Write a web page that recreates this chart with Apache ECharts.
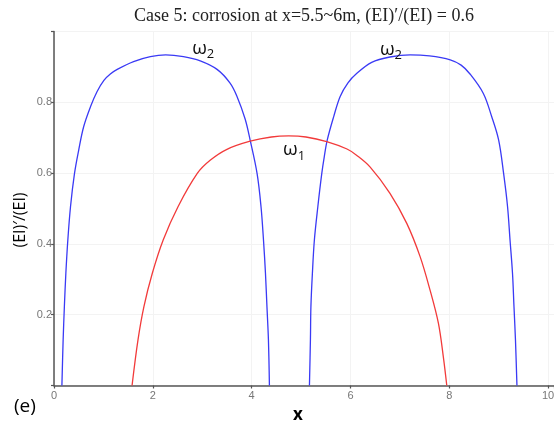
<!DOCTYPE html>
<html><head><meta charset="utf-8">
<script src="https://cdn.jsdelivr.net/npm/echarts@6/dist/echarts.min.js"></script>
<style>html,body{margin:0;padding:0;background:#fff}#c{width:554px;height:423px}</style>
</head><body><div id="c"></div>
<script>
// ω2 (first span)
const blue1X = [0.16, 0.185, 0.21, 0.24, 0.28, 0.334, 0.415, 0.50, 0.60, 0.74, 0.87, 1.01, 1.14, 1.28, 1.61, 1.95, 2.26, 2.62, 2.96, 3.30, 3.56, 3.70, 3.87, 3.97, 4.11, 4.19, 4.24, 4.28, 4.31, 4.34, 4.36];
const blue1Y = [0, 0.129, 0.223, 0.317, 0.411, 0.505, 0.599, 0.665, 0.731, 0.788, 0.830, 0.862, 0.880, 0.893, 0.915, 0.929, 0.934, 0.929, 0.917, 0.893, 0.855, 0.818, 0.752, 0.693, 0.599, 0.505, 0.411, 0.317, 0.223, 0.129, 0];
// ω2 (second span)
const blue2X = [5.17, 5.19, 5.20, 5.23, 5.27, 5.34, 5.42, 5.47, 5.53, 5.66, 5.79, 5.95, 6.13, 6.43, 6.80, 7.21, 7.60, 8.02, 8.24, 8.42, 8.69, 8.86, 9.00, 9.10, 9.18, 9.23, 9.28, 9.31, 9.34, 9.37];
const blue2Y = [0, 0.129, 0.223, 0.317, 0.411, 0.505, 0.599, 0.646, 0.693, 0.759, 0.816, 0.855, 0.882, 0.913, 0.928, 0.934, 0.931, 0.920, 0.905, 0.880, 0.825, 0.759, 0.693, 0.599, 0.505, 0.411, 0.317, 0.223, 0.129, 0];
// ω1
const redX = [1.58, 1.70, 1.82, 1.99, 2.21, 2.51, 2.90, 3.16, 3.50, 3.97, 4.40, 4.75, 5.10, 5.52, 5.93, 6.13, 6.40, 6.80, 7.14, 7.41, 7.61, 7.78, 7.88, 7.95];
const redY = [0, 0.129, 0.223, 0.317, 0.411, 0.505, 0.599, 0.636, 0.667, 0.690, 0.702, 0.705, 0.702, 0.689, 0.668, 0.650, 0.617, 0.543, 0.458, 0.364, 0.270, 0.176, 0.081, 0];
const xTicks = [0, 2, 4, 6, 8, 10];
const yTicks = [0.2, 0.4, 0.6, 0.8];
const titleText = "Case 5: corrosion at x=5.5~6m, (EI)\u2032/(EI) = 0.6";
const yName = "(EI)\u2032/(EI)";
const labels = [
  {name: "ω", sub: "2", x: 3.02, y: 0.952},
  {name: "ω", sub: "2", x: 6.82, y: 0.950},
  {name: "ω", sub: "1", x: 4.86, y: 0.665}
];

const pair = (xs, ys) => xs.map((x, i) => [x, ys[i]]);
const rich = {
  w: {fontSize: 19, fontFamily: 'Open Sans', color: '#111', verticalAlign: 'bottom'},
  s: {fontSize: 13, fontFamily: 'Open Sans', color: '#111', verticalAlign: 'bottom', padding: [0, 0, -3, 0]}
};
const chart = echarts.init(document.getElementById('c'), null, {renderer: 'canvas'});
const lineSeries = (data, color, lbls) => ({
  type: 'line', data, showSymbol: false, smooth: 0.35, clip: false,
  lineStyle: {color, width: 1.3}, itemStyle: {color},
  markPoint: {
    symbol: 'circle', symbolSize: 0, silent: true,
    data: lbls.map(l => ({coord: [l.x, l.y], value: l.sub,
      label: {show: true, position: 'inside', formatter: '{w|' + l.name + '}{s|' + l.sub + '}', rich}}))
  }
});
chart.setOption({
  animation: false,
  backgroundColor: '#fff',
  title: {text: titleText, left: 129, top: 2,
    textStyle: {fontFamily: 'Liberation Serif', fontSize: 18, fontWeight: 'normal', color: '#222'}},
  grid: {left: 54, right: 0, top: 31.5, bottom: 37.5, containLabel: false, outerBoundsMode: 'none'},
  xAxis: {
    type: 'value', min: 0, max: 10.12, interval: 2,
    name: 'x', nameLocation: 'middle', nameGap: 19,
    nameTextStyle: {fontFamily: 'Open Sans', fontSize: 17, fontWeight: 'bold', color: '#000', padding: [0, 12, 0, 0]},
    axisLine: {show: true, lineStyle: {color: '#555', width: 1.5}},
    axisTick: {show: true, length: 3, lineStyle: {color: '#555', width: 1.2}},
    axisLabel: {fontFamily: 'Liberation Sans', fontSize: 11, color: '#777', margin: 5,
      formatter: v => xTicks.includes(Math.round(v * 100) / 100) ? String(v) : ''},
    splitLine: {show: true, lineStyle: {color: '#f3f3f3', width: 1}}
  },
  yAxis: {
    type: 'value', min: 0, max: 1, interval: 0.2,
    axisLine: {show: true, lineStyle: {color: '#555', width: 1.5}},
    axisTick: {show: true, length: 3, lineStyle: {color: '#555', width: 1.2}},
    axisLabel: {fontFamily: 'Liberation Sans', fontSize: 11, color: '#777', margin: 2,
      formatter: v => yTicks.some(t => Math.abs(t - v) < 1e-6) ? v.toFixed(1) : ''},
    splitLine: {show: true, lineStyle: {color: '#f3f3f3', width: 1}}
  },
  graphic: [
    {type: 'text', left: 14, top: 397,
      style: {text: '(e)', fontFamily: 'Open Sans', fontSize: 19, fill: '#000'}},
    {type: 'text', x: 20, y: 220, rotation: Math.PI / 2,
      style: {text: yName, fontFamily: 'Open Sans', fontSize: 16, fill: '#000',
        align: 'center', verticalAlign: 'middle', textAlign: 'center', textVerticalAlign: 'middle'}}
  ],
  series: [
    lineSeries(pair(blue1X, blue1Y), '#3a3af5', [labels[0]]),
    lineSeries(pair(blue2X, blue2Y), '#3a3af5', [labels[1]]),
    lineSeries(pair(redX, redY), '#f23a3a', [labels[2]])
  ]
});
</script></body></html>
